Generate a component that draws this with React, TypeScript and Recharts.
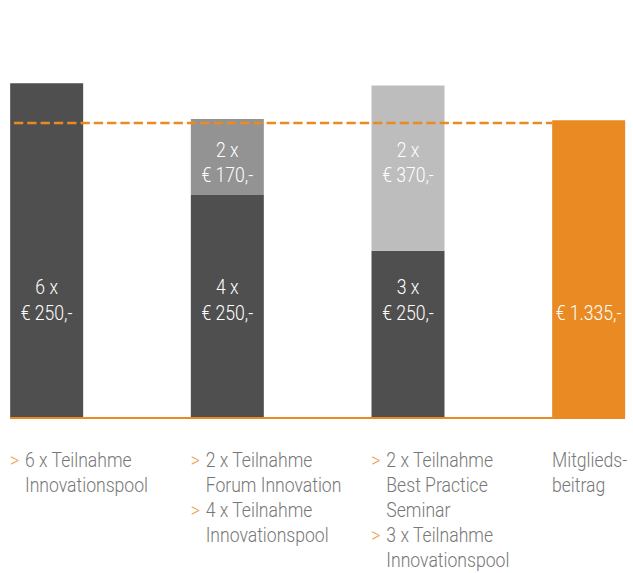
import React from 'react';
import { BarChart, Bar, XAxis, YAxis, ReferenceLine, LabelList, Cell } from 'recharts';

// Werte
const categories = [
  [{ bullet: true, text: '6 x Teilnahme' }, { bullet: false, text: 'Innovationspool' }],
  [
    { bullet: true, text: '2 x Teilnahme' },
    { bullet: false, text: 'Forum Innovation' },
    { bullet: true, text: '4 x Teilnahme' },
    { bullet: false, text: 'Innovationspool' },
  ],
  [
    { bullet: true, text: '2 x Teilnahme' },
    { bullet: false, text: 'Best Practice' },
    { bullet: false, text: 'Seminar' },
    { bullet: true, text: '3 x Teilnahme' },
    { bullet: false, text: 'Innovationspool' },
  ],
  [{ bullet: false, text: 'Mitglieds-' }, { bullet: false, text: 'beitrag' }],
];
const baseCount = [6, 4, 3, 0];
const basePrice = 250;
const extraCount = [0, 2, 2, 0];
const extraPrice = [0, 170, 370, 0];
const membership = [0, 0, 0, 1335];
const referenceValue = 1322;
const yTicks = [0, 1600];

const ORANGE = '#e98b22';
const DARK = '#4f4f4f';
const EXTRA_COLORS = ['#939393', '#939393', '#bdbdbd', '#bdbdbd'];
const FONT = 'Roboto, "Noto Sans", sans-serif';

const W = 633;
const H = 573;
const M_TOP = 61;
const PLOT_H = 357;
const PLOT_BOTTOM = M_TOP + PLOT_H;
const BAR_W = 73;
const SQUEEZE = 0.88;

const data = categories.map((c, i) => ({
  idx: i,
  base: baseCount[i] * basePrice,
  extra: extraCount[i] * extraPrice[i],
  member: membership[i],
}));

const fmt = (v: number) => new Intl.NumberFormat('de-DE').format(v);

const Narrow = ({ x, y, anchor, fill, children }: any) => (
  <g transform={`translate(${x},${y}) scale(${SQUEEZE},1)`}>
    <text x={0} y={0} textAnchor={anchor} fill={fill} fontFamily={FONT} fontWeight={300} fontSize={20}>
      {children}
    </text>
  </g>
);

// value = idx der Kategorie (LabelList dataKey="idx")
const BaseLabel = (props: any) => {
  const { x, width, value } = props;
  const i = Number(value);
  if (!baseCount[i]) return null;
  const cx = x + width / 2;
  return (
    <g>
      <Narrow x={cx} y={PLOT_BOTTOM - 124} anchor="middle" fill="#fff">{`${baseCount[i]} x`}</Narrow>
      <Narrow x={cx} y={PLOT_BOTTOM - 98} anchor="middle" fill="#fff">{`€ ${basePrice},-`}</Narrow>
    </g>
  );
};

const ExtraLabel = (props: any) => {
  const { x, width, value } = props;
  const i = Number(value);
  if (!extraCount[i]) return null;
  const cx = x + width / 2;
  return (
    <g>
      <Narrow x={cx} y={PLOT_BOTTOM - 261} anchor="middle" fill="#fff">{`${extraCount[i]} x`}</Narrow>
      <Narrow x={cx} y={PLOT_BOTTOM - 236} anchor="middle" fill="#fff">{`€ ${extraPrice[i]},-`}</Narrow>
    </g>
  );
};

const MemberLabel = (props: any) => {
  const { x, width, value } = props;
  const i = Number(value);
  if (!membership[i]) return null;
  return (
    <Narrow x={x + width / 2} y={PLOT_BOTTOM - 98} anchor="middle" fill="#fff">{`€ ${fmt(membership[i])},-`}</Narrow>
  );
};

const CategoryTick = ({ x, payload }: any) => {
  const lines = categories[payload.value];
  if (!lines) return null;
  const left = x - BAR_W / 2;
  const indent = lines[0].bullet ? 15 : 0;
  return (
    <g>
      {lines.map((l, i) => {
        const y = PLOT_BOTTOM + 49 + i * 25;
        return (
          <g key={i}>
            {l.bullet && <Narrow x={left} y={y} anchor="start" fill="#f2a04c">{'>'}</Narrow>}
            <Narrow x={left + indent} y={y} anchor="start" fill="#777777">
              {l.text}
            </Narrow>
          </g>
        );
      })}
    </g>
  );
};

export default function App() {
  return (
    <div style={{ position: 'absolute', left: 0, top: 0, width: W, height: H, background: '#fff' }}>
      <BarChart width={W} height={H} data={data} margin={{ top: M_TOP, right: 8, left: 10, bottom: 0 }}>
        <XAxis
          type="number"
          dataKey="idx"
          domain={[0, 3]}
          ticks={[0, 1, 2, 3]}
          padding={{ left: BAR_W / 2, right: BAR_W / 2 }}
          tickLine={false}
          axisLine={{ stroke: ORANGE, strokeWidth: 2 }}
          tick={<CategoryTick />}
          height={H - PLOT_BOTTOM}
          interval={0}
        />
        <YAxis hide domain={[yTicks[0], yTicks[1]]} ticks={yTicks} />
        <Bar dataKey="base" stackId="a" fill={DARK} barSize={BAR_W} isAnimationActive={false}>
          <LabelList dataKey="idx" content={<BaseLabel />} />
        </Bar>
        <Bar dataKey="extra" stackId="a" barSize={BAR_W} isAnimationActive={false}>
          {data.map((d, i) => (
            <Cell key={i} fill={EXTRA_COLORS[i]} />
          ))}
          <LabelList dataKey="idx" content={<ExtraLabel />} />
        </Bar>
        <Bar dataKey="member" stackId="a" fill={ORANGE} barSize={BAR_W} isAnimationActive={false}>
          <LabelList dataKey="idx" content={<MemberLabel />} />
        </Bar>
        <ReferenceLine
          segment={[{ x: -0.18, y: referenceValue }, { x: 2.8, y: referenceValue }]}
          stroke={ORANGE}
          strokeWidth={2.5}
          strokeDasharray="9.3 4"
          ifOverflow="visible"
        />
      </BarChart>
    </div>
  );
}
